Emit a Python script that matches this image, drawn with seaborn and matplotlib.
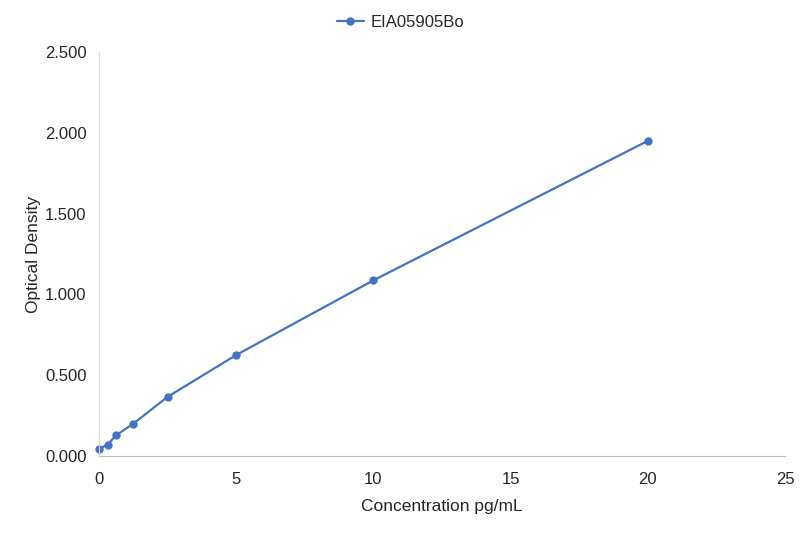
import pandas as pd
import matplotlib.pyplot as plt
import seaborn as sns

concentration = [0, 0.3125, 0.625, 1.25, 2.5, 5, 10, 20]
optical_density = [0.043, 0.071, 0.128, 0.200, 0.366, 0.625, 1.087, 1.950]
series_name = "EIA05905Bo"

df = pd.DataFrame({"Concentration": concentration, "OD": optical_density})

sns.set_style("white")
plt.rcParams['font.family'] = ['Liberation Sans', 'DejaVu Sans']

fig = plt.figure(figsize=(8.01, 5.33), dpi=100)
ax = fig.add_axes([99 / 801, 1 - 456 / 533, (785 - 99) / 801, (456 - 52) / 533])

sns.lineplot(data=df, x="Concentration", y="OD", ax=ax, color="#4472C4",
             marker="o", markersize=6, markeredgewidth=0, linewidth=1.6,
             label=series_name, clip_on=False)

ax.set_xlim(0, 25)
ax.set_ylim(0, 2.5)
ax.set_xticks([0, 5, 10, 15, 20, 25])
ax.set_yticks([0, 0.5, 1.0, 1.5, 2.0, 2.5])
ax.set_yticklabels([f"{v:.3f}" for v in [0, 0.5, 1.0, 1.5, 2.0, 2.5]])
ax.tick_params(labelsize=12, labelcolor="#262626", length=0)
ax.tick_params(axis="x", pad=11.5)
ax.tick_params(axis="y", pad=9)

for side in ["top", "right"]:
    ax.spines[side].set_visible(False)
ax.spines["left"].set_color("#D9D9D9")
ax.spines["bottom"].set_color("#BFBFBF")

ax.set_xlabel("Concentration pg/mL", fontsize=12.5, color="#262626", labelpad=9)
ax.set_ylabel("Optical Density", fontsize=12.5, color="#262626", labelpad=3)

ax.get_legend().remove()
handles, labels = ax.get_legend_handles_labels()
fig.legend(handles, labels, loc="center", bbox_to_anchor=(0.5, 1 - 22 / 533),
           frameon=False, fontsize=12, handlelength=1.6, handletextpad=0.4,
           labelcolor="#262626")

fig.savefig("out.png", dpi=100)
